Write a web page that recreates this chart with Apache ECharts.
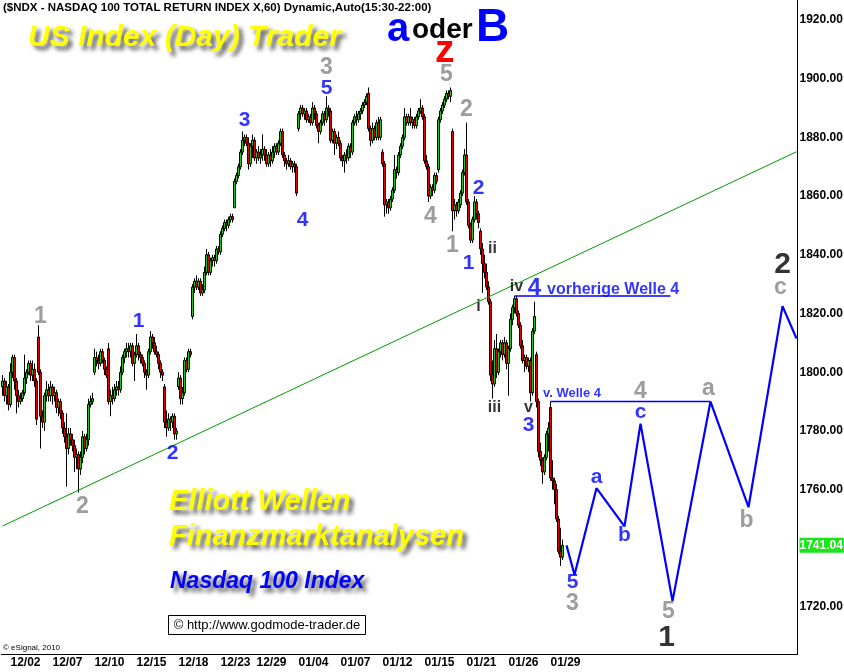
<!DOCTYPE html>
<html><head><meta charset="utf-8">
<script src="https://cdn.jsdelivr.net/npm/echarts@6/dist/echarts.min.js"></script>
<style>html,body{margin:0;padding:0;background:#fff}#c{width:844px;height:672px}</style>
</head><body><div id="c"></div>
<script>
// ---------- DATA ----------
const dayNames = ['12/01','12/02','12/03','12/04','12/07','12/08','12/09','12/10','12/11','12/14','12/15','12/16','12/17','12/18','12/21','12/22','12/23','12/24','12/28','12/29','12/30','12/31',
  '01/04','01/05','01/06','01/07','01/08','01/11','01/12','01/13','01/14','01/15','01/19','01/20','01/21','01/22','01/25','01/26','01/27','01/28','01/29'];
const dayBarCounts = [4,7,7,7,7,7,7,7,7,7,7,7,7,7,7,7,7,4,7,7,7,7,
  7,7,7,7,7,7,7,7,7,7,7,7,7,7,7,7,7,7,7];
const tickDays = ['12/02','12/07','12/10','12/15','12/18','12/23','12/29','01/04','01/07','01/12','01/15','01/21','01/26','01/29'];
const yTickValues = [1720,1740,1760,1780,1800,1820,1840,1860,1880,1900,1920];
const lastPrice = 1741.04;

// hourly bars [open, close, low, high]
const barsDec = [
[1795,1797,1792,1799],[1797,1792,1790,1798],[1792,1795,1789,1797],[1795,1789,1787,1796],
[1789,1800,1788,1803],[1800,1805,1798,1806],[1805,1797,1794,1806],[1797,1792,1786,1798],[1792,1790,1788,1794],[1790,1791,1789,1793],[1791,1793,1790,1794],
[1793,1798,1792,1806],[1798,1800,1796,1801],[1800,1803,1799,1804],[1803,1799,1797,1804],[1799,1801,1797,1804],[1801,1797,1795,1803],[1797,1784,1782,1798],
[1812,1800,1799,1816],[1800,1785,1774,1801],[1785,1783,1781,1787],[1783,1792,1780,1793],[1792,1794,1790,1797],[1794,1792,1790,1796],[1792,1795,1790,1797],
[1795,1792,1789,1796],[1792,1793,1790,1795],[1793,1788,1786,1794],[1788,1790,1785,1791],[1790,1786,1784,1791],[1786,1781,1779,1787],[1781,1778,1776,1783],
[1778,1774,1761,1786],[1774,1779,1772,1781],[1779,1777,1775,1781],[1777,1775,1773,1779],[1775,1771,1766,1777],[1771,1772,1767,1774],[1772,1767,1759,1773],
[1767,1771,1765,1773],[1771,1778,1769,1780],[1778,1774,1772,1779],[1774,1777,1773,1779],[1777,1789,1775,1791],[1789,1790,1788,1792],[1790,1791,1789,1793],
[1800,1805,1799,1808],[1805,1804,1802,1807],[1804,1803,1801,1806],[1803,1807,1802,1808],[1807,1804,1803,1808],[1804,1801,1799,1805],[1801,1799,1798,1802],
[1808,1790,1789,1810],[1790,1792,1785,1794],[1792,1791,1789,1795],[1791,1794,1790,1796],[1794,1795,1792,1797],[1795,1794,1792,1797],[1794,1800,1793,1802],
[1800,1805,1799,1806],[1805,1807,1803,1808],[1807,1808,1805,1810],[1808,1807,1805,1810],[1807,1809,1805,1810],[1809,1803,1802,1810],[1803,1806,1797,1807],
[1806,1809,1805,1813],[1809,1806,1804,1810],[1806,1805,1803,1807],[1805,1803,1802,1806],[1803,1800,1798,1804],[1800,1799,1794,1801],[1799,1807,1798,1808],
[1807,1812,1806,1814],[1812,1810,1808,1813],[1810,1807,1806,1812],[1807,1806,1805,1809],[1806,1803,1801,1807],[1803,1800,1798,1804],[1800,1799,1797,1801],
[1795,1783,1781,1796],[1783,1781,1778,1787],[1781,1784,1780,1786],[1784,1783,1780,1785],[1783,1785,1781,1786],[1785,1779,1777,1786],[1779,1780,1777,1781],
[1795,1798,1794,1800],[1798,1791,1789,1799],[1791,1793,1789,1795],[1793,1804,1792,1805],[1804,1801,1800,1805],[1801,1807,1800,1808],[1807,1806,1805,1808],
[1819,1829,1818,1830],[1829,1831,1827,1832],[1831,1829,1828,1833],[1829,1831,1828,1832],[1831,1827,1826,1832],[1827,1828,1826,1830],[1828,1834,1827,1836],
[1834,1840,1833,1842],[1840,1834,1833,1841],[1834,1838,1833,1839],[1838,1839,1836,1840],[1839,1838,1836,1840],[1838,1842,1837,1843],[1842,1841,1840,1843],
[1841,1847,1840,1848],[1847,1849,1846,1850],[1849,1851,1848,1852],[1851,1850,1848,1852],[1850,1852,1849,1853],[1852,1853,1851,1854],[1853,1852,1851,1854],
[1856,1865,1856,1866],[1865,1867,1864,1868],[1867,1870,1866,1871],[1870,1875,1869,1876],
[1875,1879,1874,1882],[1879,1880,1877,1881],[1880,1878,1877,1881],[1878,1871,1869,1880],[1871,1877,1870,1878],[1877,1879,1873,1881],[1879,1873,1872,1880],
[1873,1875,1871,1876],[1875,1873,1872,1877],[1873,1874,1871,1876],[1874,1876,1872,1881],[1876,1874,1872,1877],[1874,1871,1870,1876],[1871,1874,1870,1875],
[1874,1872,1870,1876],[1872,1875,1871,1877],[1875,1877,1873,1878],[1877,1875,1874,1878],[1875,1878,1874,1879],[1878,1882,1877,1883],[1882,1874,1873,1883],
[1874,1872,1870,1875],[1872,1871,1869,1873],[1871,1872,1870,1874],[1872,1870,1869,1873],[1870,1871,1868,1872],[1871,1870,1868,1872],[1870,1861,1860,1871]
];
const barsJan = [
[1883,1888,1882,1889],[1888,1890,1886,1891],[1890,1888,1887,1891],[1888,1889,1886,1890],[1889,1886,1885,1890],[1886,1887,1885,1888],[1887,1885,1884,1888],
[1885,1890,1884,1892],[1890,1888,1886,1891],[1888,1884,1883,1889],[1884,1882,1878,1885],[1882,1885,1881,1886],[1885,1888,1884,1889],[1888,1886,1884,1889],
[1886,1890,1885,1894],[1890,1889,1887,1891],[1889,1879,1878,1890],[1879,1882,1878,1883],[1882,1878,1874,1883],[1878,1880,1876,1881],[1880,1878,1877,1882],
[1878,1873,1872,1879],[1873,1872,1870,1874],[1872,1874,1868,1875],[1874,1873,1871,1876],[1873,1877,1872,1878],[1877,1875,1873,1878],[1875,1885,1874,1886],
[1885,1887,1884,1888],[1887,1886,1884,1889],[1886,1888,1885,1889],[1888,1889,1886,1890],[1889,1891,1888,1892],[1891,1892,1890,1893],[1892,1894,1891,1895],
[1895,1883,1882,1897],[1883,1879,1877,1884],[1879,1883,1878,1885],[1883,1880,1879,1884],[1880,1885,1879,1886],[1885,1880,1879,1887],[1880,1886,1879,1887],
[1875,1871,1870,1876],[1871,1857,1853,1872],[1857,1858,1854,1859],[1858,1856,1854,1859],[1856,1859,1855,1860],[1859,1862,1858,1863],[1862,1869,1861,1874],
[1869,1868,1866,1870],[1868,1874,1867,1875],[1874,1877,1873,1878],[1877,1880,1876,1881],[1880,1887,1879,1890],[1887,1885,1884,1888],[1885,1887,1884,1888],
[1887,1885,1884,1890],[1885,1886,1883,1887],[1886,1884,1883,1887],[1884,1887,1883,1888],[1887,1889,1886,1890],[1889,1890,1888,1893],[1890,1887,1886,1891],
[1887,1872,1871,1888],[1872,1870,1869,1874],[1870,1860,1858,1871],[1860,1863,1859,1864],[1863,1862,1860,1864],[1862,1867,1861,1868],[1867,1865,1864,1868],
[1869,1886,1868,1887],[1886,1889,1885,1890],[1889,1891,1888,1892],[1891,1893,1890,1894],[1893,1895,1892,1896],[1895,1894,1893,1896],[1894,1896,1892,1897],
[1882,1855,1848,1883],[1855,1857,1852,1859],[1857,1855,1853,1858],[1855,1858,1854,1859],[1857,1861,1856,1862],[1861,1868,1860,1869],[1868,1874,1867,1876],
[1874,1858,1857,1885],[1858,1850,1849,1859],[1850,1845,1844,1851],[1845,1852,1844,1853],[1852,1858,1851,1860],[1858,1854,1852,1859],[1854,1851,1849,1855],
[1848,1842,1840,1849],[1842,1837,1827,1844],[1837,1834,1832,1840],[1834,1829,1828,1837],[1829,1824,1823,1831],[1824,1799,1797,1825],[1799,1796,1791,1804],
[1796,1808,1795,1811],[1808,1800,1798,1813],[1800,1807,1799,1808],[1807,1810,1805,1811],[1810,1806,1804,1811],[1806,1810,1805,1812],[1810,1803,1801,1811],
[1803,1808,1792,1809],[1808,1818,1807,1820],[1818,1822,1816,1823],[1822,1825,1820,1826],[1825,1820,1819,1826],[1820,1816,1815,1821],[1816,1809,1808,1817],
[1809,1804,1803,1811],[1804,1805,1800,1806],[1805,1802,1801,1806],[1802,1804,1800,1805],[1804,1793,1790,1805],[1793,1814,1792,1815],[1814,1819,1813,1824],
[1806,1790,1788,1807],[1790,1773,1771,1791],[1773,1770,1768,1776],[1770,1766,1762,1771],[1766,1771,1765,1772],[1771,1779,1770,1780],[1779,1781,1773,1783],
[1788,1764,1763,1790],[1764,1763,1760,1770],[1763,1760,1755,1764],[1760,1750,1749,1762],[1750,1739,1738,1751],[1739,1737,1734,1747],[1737,1741.04,1736,1743]
];

// projected wave path (slot index, price)
const projIdx = [282, 286, 297, 311, 319, 335, 354, 373, 390, 397];
const projVal = [1741, 1731, 1760.5, 1747.5, 1782.5, 1722, 1790, 1754, 1822.5, 1811.5];
// horizontal reference levels: [fromIdx, toIdx, price]
const prevWave4 = [256, 334, 1826];
const vWave4 = [274, 354, 1790];
// green trend line endpoints
const trendIdx = [0, 397];
const trendVal = [1747.6, 1875.1];

// wave labels [text, slot index, price]
const grayLabels = [['1',19,1818.8],['2',40,1754.1],['3',162,1903.6],['5',222,1901.3],['2',232,1889.3],['4',214,1852.9],['1',225,1843],
  ['4',319,1793.4],['a',353,1794.5],['b',372,1749.4],['c',389,1828.7],['3',285,1721.3],['5',333,1718.4]];
const blueLabels = [['1',68,1817.4],['2',85,1772.5],['3',121,1885.9],['4',150,1851.9],['5',162,1896.8],['2',238,1862.8],['1',233,1837.2],
  ['3',263,1782],['5',285,1728.6],['a',297,1764.2],['b',311,1744.5],['c',319,1786.5]];
const blueBigLabels = [['4',266,1828.7]];
const romanLabels = [['ii',245,1842],['i',238,1822.2],['iv',257,1829],['iii',246,1787.8],['v',263,1787.8]];
const blackBigLabels = [['2',390,1836.5],['1',332,1709.4]];
const prevWave4Text = [['vorherige Welle 4',272,1828.3]];
const vWave4Text = [['v. Welle 4',270,1792.9]];

// ---------- BUILD ----------
const N_SLOTS = 398;
const FONT = '"Liberation Sans", Arial, Helvetica, sans-serif';
const categories = [];
dayNames.forEach((d, k) => { for (let j = 0; j < dayBarCounts[k]; j++) categories.push(d); });
while (categories.length < N_SLOTS) categories.push('');
const labelIdx = new Set();
categories.forEach((c, i) => { if (tickDays.includes(c) && (i === 0 || categories[i-1] !== c)) labelIdx.add(i); });

const bars = barsDec.concat(barsJan);
const proj = projIdx.map((x, k) => [x, projVal[k]]);

function labelSeries(list, size, color, pos) {
  return {
    type: 'scatter', silent: true, symbolSize: 1, z: 20,
    itemStyle: {color: 'rgba(0,0,0,0)'},
    label: {show: true, position: pos || 'inside', distance: 0, formatter: p => p.name,
      fontSize: size, fontWeight: 'bold', color: color, fontFamily: FONT},
    data: list.map(a => ({name: a[0], value: [a[1], a[2]]}))
  };
}

const shadow = {textShadowColor: 'rgba(60,60,60,0.85)', textShadowBlur: 4, textShadowOffsetX: 4, textShadowOffsetY: 4};
function txt(x, y, text, size, color, extra) {
  return {type: 'text', x: x, y: y, silent: true, z: 100,
    style: Object.assign({text: text, fill: color, fontSize: size, fontWeight: 'bold', fontFamily: FONT,
      align: 'left', verticalAlign: 'middle'}, extra || {})};
}

const chart = echarts.init(document.getElementById('c'), null, {renderer: 'canvas', width: 844, height: 672});
chart.setOption({
  animation: false,
  backgroundColor: '#ffffff',
  grid: {left: 1.5, right: 46.5, top: 0, bottom: 18, containLabel: false, outerBoundsMode: 'none'},
  xAxis: {
    type: 'category', data: categories, boundaryGap: true,
    axisLine: {show: true, lineStyle: {color: '#000', width: 1}},
    axisTick: {show: false},
    axisLabel: {interval: (i) => labelIdx.has(i), align: 'left', margin: 3,
      fontSize: 12, fontWeight: 'bold', color: '#000', fontFamily: FONT},
    splitLine: {show: false}
  },
  yAxis: {
    type: 'value', position: 'right', min: 1704.0, max: 1926.8, scale: true,
    axisLine: {show: true, lineStyle: {color: '#000', width: 1}},
    axisTick: {show: false},
    splitLine: {show: false},
    axisLabel: {
      customValues: yTickValues.concat([lastPrice]),
      margin: 2, fontSize: 12, fontWeight: 'bold', color: '#000', fontFamily: FONT,
      formatter: v => Math.abs(v - lastPrice) < 0.001 ? '{g|' + lastPrice.toFixed(2) + '}' : v.toFixed(2),
      rich: {g: {backgroundColor: '#19e619', color: '#ffffff', fontSize: 12, fontWeight: 'bold', fontFamily: FONT, padding: [2, 1, 1, 0]}}
    }
  },
  series: [
    {
      type: 'candlestick', data: bars, barWidth: 2, z: 5, silent: true,
      itemStyle: {color: '#10d010', color0: '#e00000', borderColor: '#000', borderColor0: '#000', borderColorDoji: '#000', borderWidth: 1}
    },
    {type: 'line', data: trendIdx.map((x, k) => [x, trendVal[k]]), symbol: 'none', silent: true, z: 6,
      lineStyle: {color: '#009a00', width: 1}},
    {type: 'line', data: proj, symbol: 'none', silent: true, z: 8,
      lineStyle: {color: '#0000ff', width: 2.2}},
    {type: 'line', data: [[prevWave4[0], prevWave4[2]], [prevWave4[1], prevWave4[2]]], symbol: 'none', silent: true, z: 8,
      lineStyle: {color: '#0000ff', width: 1.5}},
    {type: 'line', data: [[vWave4[0], vWave4[2]], [vWave4[1], vWave4[2]]], symbol: 'none', silent: true, z: 8,
      lineStyle: {color: '#0000ff', width: 1.5}},
    labelSeries(grayLabels, 23, '#858585'),
    labelSeries(blueLabels, 21, '#0000ff'),
    labelSeries(blueBigLabels, 24, '#0000ff'),
    labelSeries(romanLabels, 16, '#000000'),
    labelSeries(blackBigLabels, 30, '#000000'),
    labelSeries(prevWave4Text, 16, '#0000ff', 'right'),
    labelSeries(vWave4Text, 13, '#0000ff', 'right')
  ],
  graphic: [
    txt(3, 8, '($NDX - NASDAQ 100 TOTAL RETURN INDEX X,60) Dynamic,Auto(15:30-22:00)', 11.5, '#000'),
    txt(28, 38, 'US Index (Day) Trader', 30, '#ffff00', Object.assign({fontStyle: 'italic'}, shadow)),
    txt(387, 29.5, 'a', 40, '#0000ff'),
    txt(412, 30, 'oder', 28, '#000000'),
    txt(476, 28, 'B', 46, '#0000ff'),
    txt(435, 51, 'z', 39, '#ff0000'),
    txt(169, 501.7, 'Elliott Wellen', 29, '#ffff00', Object.assign({fontStyle: 'italic'}, shadow)),
    txt(169, 536.7, 'Finanzmarktanalysen', 29, '#ffff00', Object.assign({fontStyle: 'italic'}, shadow)),
    txt(170, 582, 'Nasdaq 100 Index', 23, '#0000ff', Object.assign({fontStyle: 'italic'}, shadow)),
    {type: 'rect', silent: true, z: 100, shape: {x: 168.5, y: 615.5, width: 197, height: 19},
      style: {fill: '#ffffff', stroke: '#000000', lineWidth: 1}},
    txt(267, 625.5, '\u00a9 http://www.godmode-trader.de', 13, '#000', {fontWeight: 'normal', align: 'center'}),
    txt(3, 648, '\u00a9 eSignal, 2010', 8, '#000', {fontWeight: 'normal'})
  ]
});
</script>
</body></html>
